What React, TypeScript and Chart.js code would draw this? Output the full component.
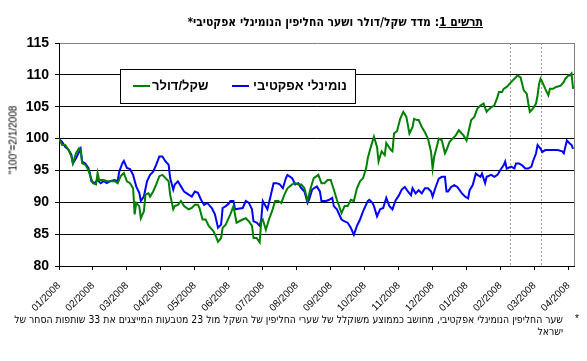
import React, { useEffect, useRef } from "react";
import { Chart, registerables } from "chart.js";

Chart.register(...registerables);

// ---- data ----
const TICK_LABELS = [
  "01/2008", "02/2008", "03/2008", "04/2008", "05/2008", "06/2008", "07/2008", "08/2008",
  "09/2008", "10/2008", "11/2008", "12/2008", "01/2008", "02/2008", "03/2008", "04/2008",
];
const DAYS_PER_TICK = 22; // trading days between month ticks
const LAST_DAY = 334;
const Y_MIN = 80;
const Y_MAX = 115;
const Y_STEP = 5;

const SERIES_NAMES = ["שקל/דולר", "נומינלי אפקטיבי"];

const usdDays = [0, 2, 4, 6, 8, 9, 11, 13, 14, 15, 17, 19, 20, 22, 24, 25, 26, 29, 31, 33, 36, 38, 40, 42, 44, 46, 48, 49, 50, 52, 53, 55, 56, 58, 59, 61, 63, 65, 67, 69, 71, 72, 74, 75, 77, 79, 81, 84, 86, 88, 90, 91, 93, 95, 97, 100, 102, 103, 105, 106, 108, 110, 111, 113, 115, 119, 121, 123, 125, 126, 128, 130, 131, 132, 134, 136, 138, 140, 142, 144, 146, 148, 151, 153, 155, 157, 159, 161, 163, 165, 168, 170, 172, 174, 176, 178, 180, 183, 185, 187, 189, 191, 193, 195, 197, 199, 200, 202, 204, 206, 207, 209, 211, 212, 215, 216, 217, 219, 221, 223, 225, 227, 229, 230, 232, 233, 235, 237, 239, 241, 242, 243, 245, 246, 248, 250, 251, 253, 255, 257, 259, 262, 264, 265, 267, 269, 271, 273, 275, 277, 278, 280, 282, 284, 285, 287, 288, 290, 293, 295, 297, 299, 300, 301, 303, 304, 305, 307, 309, 310, 311, 312, 313, 315, 317, 318, 320, 322, 325, 327, 328, 330, 331, 332, 333];
const usdValues = [100, 99.0, 99.0, 98.3, 97.2, 96.1, 97.7, 98.5, 98.2, 96.1, 95.9, 95.1, 94.3, 93.0, 92.8, 94.6, 93.5, 93.5, 93.3, 93.3, 93.3, 93.0, 94.1, 94.6, 93.3, 93.0, 92.2, 88.1, 89.9, 89.4, 87.5, 88.6, 91.2, 91.4, 90.9, 91.7, 92.8, 94.1, 94.3, 93.8, 93.3, 91.2, 88.9, 89.4, 89.6, 90.2, 89.4, 88.9, 89.1, 89.6, 89.6, 89.1, 87.3, 87.3, 86.3, 85.5, 84.4, 83.8, 84.4, 86.0, 86.5, 87.6, 88.1, 89.4, 86.8, 87.3, 87.5, 87.0, 86.3, 84.4, 84.4, 83.7, 87.0, 87.3, 85.7, 87.3, 88.6, 90.2, 90.2, 89.9, 91.2, 92.2, 92.8, 93.0, 92.8, 92.8, 92.2, 90.2, 92.2, 93.8, 94.3, 93.0, 93.0, 93.5, 93.5, 92.0, 90.4, 88.3, 89.4, 89.4, 90.4, 90.2, 92.2, 93.3, 93.8, 95.4, 96.9, 98.7, 100.3, 98.7, 96.4, 98.0, 97.4, 99.3, 98.2, 98.0, 100.8, 101.2, 103.1, 104.2, 103.4, 100.8, 101.8, 103.1, 102.9, 102.9, 101.8, 101.0, 100.0, 97.9, 95.3, 97.1, 99.0, 100.0, 99.7, 97.7, 98.2, 99.5, 100.0, 100.5, 101.3, 100.5, 99.7, 100.8, 102.9, 103.4, 104.7, 105.2, 105.5, 104.2, 104.5, 104.9, 105.2, 106.5, 107.3, 107.3, 107.8, 108.1, 108.9, 109.4, 109.9, 109.6, 108.6, 107.6, 107.0, 105.5, 104.2, 104.7, 105.5, 106.8, 108.6, 109.4, 108.9, 107.8, 106.8, 107.8, 107.8, 108.1, 108.3, 108.9, 109.4, 109.9, 109.9, 110.2, 107.8];

const effDays = [0, 2, 4, 6, 8, 9, 11, 14, 15, 17, 19, 20, 21, 23, 25, 27, 29, 31, 33, 36, 38, 39, 41, 42, 44, 46, 48, 50, 52, 53, 55, 57, 59, 61, 63, 65, 67, 69, 71, 72, 74, 75, 77, 79, 81, 84, 86, 88, 90, 92, 94, 96, 99, 101, 103, 105, 106, 108, 110, 111, 113, 114, 116, 119, 121, 123, 125, 126, 128, 130, 131, 132, 135, 137, 139, 141, 143, 145, 147, 148, 151, 153, 155, 157, 159, 161, 162, 164, 167, 169, 170, 173, 175, 177, 178, 180, 183, 185, 187, 189, 191, 193, 195, 197, 200, 201, 203, 204, 206, 208, 210, 212, 214, 216, 218, 220, 222, 224, 226, 228, 229, 231, 233, 235, 237, 239, 241, 242, 244, 246, 248, 250, 251, 252, 254, 256, 258, 261, 263, 265, 266, 268, 270, 271, 273, 274, 276, 277, 280, 282, 284, 286, 288, 289, 290, 293, 295, 296, 298, 300, 302, 304, 306, 307, 309, 310, 312, 313, 315, 317, 319, 321, 323, 326, 327, 328, 329, 331, 332, 333];
const effValues = [100, 99.5, 98.7, 98.3, 97.5, 96.1, 96.9, 98.4, 96.4, 96.1, 95.4, 94.6, 93.3, 93.0, 93.5, 93.0, 93.3, 93.0, 93.3, 93.5, 93.3, 94.8, 96.1, 96.5, 95.4, 95.2, 94.3, 92.5, 91.5, 90.2, 90.9, 93.3, 94.3, 94.8, 95.9, 97.2, 97.2, 96.4, 95.9, 93.8, 92.0, 92.8, 93.3, 92.5, 91.7, 91.2, 90.9, 91.7, 91.5, 90.4, 89.6, 89.9, 89.1, 88.1, 86.0, 86.5, 89.1, 89.4, 89.8, 90.2, 90.2, 88.9, 89.0, 89.1, 90.2, 89.9, 88.9, 87.0, 86.8, 86.3, 87.3, 90.2, 88.9, 90.9, 93.0, 93.0, 92.8, 92.2, 93.8, 94.3, 93.8, 92.8, 93.0, 92.2, 91.7, 89.9, 90.4, 92.0, 92.5, 91.7, 90.2, 90.2, 90.4, 90.7, 89.4, 88.9, 87.3, 87.0, 86.8, 86.0, 84.9, 86.3, 87.3, 88.6, 90.2, 90.4, 89.9, 89.4, 87.8, 88.9, 89.1, 90.7, 89.4, 88.9, 90.3, 91.0, 92.0, 92.4, 91.7, 91.1, 92.2, 91.4, 91.9, 91.4, 92.2, 92.2, 91.7, 90.9, 92.4, 93.7, 94.0, 94.0, 91.7, 91.7, 92.4, 92.7, 92.4, 91.4, 90.9, 90.6, 91.9, 92.7, 94.5, 94.3, 94.0, 94.5, 93.0, 94.0, 94.3, 94.0, 94.3, 95.1, 95.8, 96.4, 95.3, 95.6, 95.3, 96.1, 96.1, 95.8, 95.3, 95.3, 95.6, 96.4, 97.7, 99.0, 98.4, 97.9, 98.2, 98.2, 98.2, 98.2, 98.2, 98.0, 97.7, 98.7, 99.7, 99.2, 99.0, 98.4];

const markerDays = [292, 312];

const TITLE_LEAD = "תרשים 1";
const TITLE_REST = ": מדד שקל/דולר ושער החליפין הנומינלי אפקטיבי*";
const Y_TITLE = '"100"=2/1/2008';
const NOTE_LINE1 = "שער החליפין הנומינלי אפקטיבי, מחושב כממוצע משוקלל של שערי החליפין של השקל מול 23 מטבעות המייצגים את 33 שותפות הסחר של";
const NOTE_LINE2 = "ישראל";

const FONT = "'Liberation Sans', Arial, 'DejaVu Sans', sans-serif";
const NARROW = "'DejaVu Sans Condensed', 'Liberation Sans Narrow', 'Liberation Sans', sans-serif";

const frameAndMarkers = {
  id: "frameAndMarkers",
  beforeDatasetsDraw(chart: any) {
    const { ctx, chartArea, scales } = chart;
    ctx.save();
    ctx.strokeStyle = "#a0a0a0";
    ctx.lineWidth = 1;
    ctx.setLineDash([2, 2]);
    markerDays.forEach((d) => {
      const x = Math.round(scales.x.getPixelForValue(d)) + 0.5;
      ctx.beginPath();
      ctx.moveTo(x, chartArea.top);
      ctx.lineTo(x, chartArea.bottom);
      ctx.stroke();
    });
    ctx.setLineDash([]);
    ctx.strokeStyle = "#808080";
    const rx = Math.round(chartArea.right) - 0.5;
    ctx.beginPath();
    ctx.moveTo(rx, chartArea.top);
    ctx.lineTo(rx, chartArea.bottom);
    ctx.stroke();
    ctx.restore();
  },
};

const boxLegend = {
  id: "boxLegend",
  afterDatasetsDraw(chart: any) {
    const { ctx, chartArea } = chart;
    const bx = chartArea.left + 61;
    const by = chartArea.top + 26;
    const bw = 235;
    const bh = 34;
    ctx.save();
    ctx.fillStyle = "#fff";
    ctx.fillRect(bx, by, bw, bh);
    ctx.strokeStyle = "#000";
    ctx.lineWidth = 1;
    ctx.strokeRect(bx + 0.5, by + 0.5, bw, bh);
    const cy = by + 17;
    const items = [
      { off: 13, textOff: 32 },
      { off: 112, textOff: 133 },
    ];
    chart.data.datasets.forEach((ds: any, i: number) => {
      const it = items[i];
      ctx.strokeStyle = ds.borderColor;
      ctx.lineWidth = 2;
      ctx.beginPath();
      ctx.moveTo(bx + it.off, cy);
      ctx.lineTo(bx + it.off + 17, cy);
      ctx.stroke();
      ctx.fillStyle = "#000";
      ctx.font = `bold 13px ${FONT}`;
      ctx.textBaseline = "middle";
      ctx.direction = "rtl";
      ctx.textAlign = "left";
      ctx.fillText(ds.label, bx + it.textOff, cy);
    });
    ctx.restore();
  },
};

export default function App() {
  const canvasRef = useRef<HTMLCanvasElement | null>(null);

  useEffect(() => {
    document.body.style.margin = "0";
    const canvas = canvasRef.current;
    if (!canvas) return;
    const chart = new Chart(canvas, {
      type: "line",
      data: {
        datasets: [
          {
            label: SERIES_NAMES[0],
            data: usdDays.map((d, i) => ({ x: d, y: usdValues[i] })),
            borderColor: "#008000",
            borderWidth: 2,
            pointRadius: 0,
            tension: 0,
            fill: false,
          },
          {
            label: SERIES_NAMES[1],
            data: effDays.map((d, i) => ({ x: d, y: effValues[i] })),
            borderColor: "#0000ff",
            borderWidth: 2,
            pointRadius: 0,
            tension: 0,
            fill: false,
          },
        ],
      },
      options: {
        responsive: false,
        animation: false,
        devicePixelRatio: 1,
        layout: { padding: { top: 43, right: 5, left: 0, bottom: 0 } },
        plugins: {
          legend: { display: false },
          tooltip: { enabled: false },
          title: { display: false },
        },
        scales: {
          x: {
            type: "linear",
            min: 0,
            max: LAST_DAY,
            afterBuildTicks: (scale: any) => {
              scale.ticks = TICK_LABELS.map((_, i) => ({ value: i * DAYS_PER_TICK }));
            },
            afterFit: (scale: any) => {
              scale.height = 95;
            },
            grid: {
              drawOnChartArea: false,
              drawTicks: true,
              tickLength: 4,
              color: "#000",
              tickColor: "#000",
            },
            border: { color: "#000", width: 1 },
            ticks: {
              autoSkip: false,
              minRotation: 45,
              maxRotation: 45,
              padding: 10,
              color: "#000",
              font: { family: FONT, size: 10 },
              callback: (v: any) => TICK_LABELS[Math.round(Number(v) / DAYS_PER_TICK)] ?? "",
            },
          },
          y: {
            type: "linear",
            min: Y_MIN,
            max: Y_MAX,
            afterFit: (scale: any) => {
              scale.width = 59;
            },
            grid: {
              color: (c: any) => (c.tick && c.tick.value === Y_MAX ? "#808080" : "#000"),
              tickColor: "#000",
              tickLength: 4,
            },
            border: { color: "#000", width: 1 },
            ticks: {
              stepSize: Y_STEP,
              padding: 6,
              color: "#000",
              font: { family: FONT, size: 14, weight: "bold" },
            },
          },
        },
      },
      plugins: [frameAndMarkers, boxLegend],
    } as any);
    return () => chart.destroy();
  }, []);

  return (
    <div style={{ position: "fixed", left: 0, top: 0, width: 587, height: 361, background: "#fff", fontFamily: FONT }}>
      <canvas ref={canvasRef} width={587} height={361} style={{ display: "block", position: "absolute", left: 0, top: 0 }} />
      <div
        dir="rtl"
        style={{
          position: "absolute",
          right: 104,
          top: 14,
          fontSize: 12,
          fontFamily: NARROW,
          fontWeight: "bold",
          lineHeight: "16px",
          whiteSpace: "nowrap",
          color: "#000",
        }}
      >
        <span style={{ textDecoration: "underline" }}>{TITLE_LEAD}</span>
        {TITLE_REST}
      </div>
      <div
        style={{
          position: "absolute",
          left: 13,
          top: 140,
          transform: "translate(-50%, -50%) rotate(-90deg)",
          fontSize: 10,
          whiteSpace: "nowrap",
          color: "#000",
        }}
      >
        {Y_TITLE}
      </div>
      <div style={{ position: "absolute", left: 575, top: 313, fontSize: 10, color: "#000" }}>*</div>
      <div
        dir="rtl"
        style={{
          position: "absolute",
          right: 24,
          top: 313,
          fontSize: 10.4,
          fontFamily: NARROW,
          lineHeight: "12px",
          whiteSpace: "nowrap",
          color: "#000",
        }}
      >
        {NOTE_LINE1}
        <br />
        {NOTE_LINE2}
      </div>
    </div>
  );
}
